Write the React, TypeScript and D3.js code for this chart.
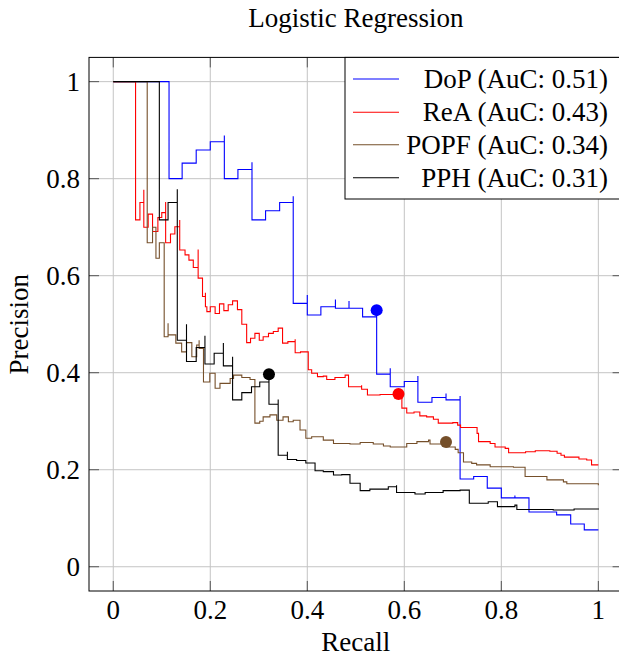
import React, { useEffect, useRef } from "react";
import * as d3 from "d3";

type Pt = [number, number];

// recall / precision step points
const dopCurve: Pt[] = [
  [0, 1], [0.115, 0.8], [0.142, 0.832], [0.171, 0.859], [0.2, 0.876], [0.229, 0.889],
  [0.229, 0.8], [0.257, 0.819], [0.286, 0.834], [0.286, 0.715], [0.314, 0.734],
  [0.343, 0.751], [0.371, 0.764], [0.371, 0.543], [0.4, 0.56], [0.4, 0.519],
  [0.428, 0.536], [0.458, 0.551], [0.458, 0.533], [0.486, 0.548], [0.486, 0.533],
  [0.514, 0.515], [0.543, 0.529], [0.543, 0.397], [0.571, 0.409], [0.571, 0.371],
  [0.6, 0.382], [0.628, 0.393], [0.628, 0.339], [0.657, 0.349], [0.686, 0.357],
  [0.686, 0.344], [0.715, 0.352], [0.715, 0.181], [0.743, 0.186], [0.771, 0.162],
  [0.8, 0.142], [0.828, 0.147], [0.828, 0.142], [0.857, 0.113], [0.914, 0.107],
  [0.943, 0.088], [0.971, 0.076], [1, 0.076],
];

const reaCurve: Pt[] = [
  [0, 1], [0.046, 0.715], [0.055, 0.751], [0.063, 0.777], [0.063, 0.7], [0.072, 0.727],
  [0.081, 0.691], [0.092, 0.72], [0.1, 0.73], [0.108, 0.752], [0.108, 0.668],
  [0.118, 0.686], [0.127, 0.701], [0.137, 0.715], [0.137, 0.653], [0.148, 0.643],
  [0.156, 0.632], [0.165, 0.617], [0.175, 0.654], [0.175, 0.595], [0.184, 0.557],
  [0.19, 0.565], [0.19, 0.536], [0.193, 0.526], [0.2, 0.536], [0.21, 0.522],
  [0.219, 0.542], [0.228, 0.528], [0.237, 0.54], [0.246, 0.548], [0.256, 0.53],
  [0.265, 0.5], [0.275, 0.462], [0.283, 0.471], [0.292, 0.481], [0.301, 0.467],
  [0.309, 0.474], [0.32, 0.481], [0.33, 0.485], [0.34, 0.492], [0.349, 0.461],
  [0.36, 0.464], [0.375, 0.469], [0.375, 0.441], [0.386, 0.443], [0.402, 0.406],
  [0.409, 0.399], [0.421, 0.392], [0.433, 0.393], [0.44, 0.386], [0.457, 0.39],
  [0.478, 0.395], [0.485, 0.371], [0.512, 0.374], [0.512, 0.366], [0.524, 0.354],
  [0.55, 0.355], [0.588, 0.356], [0.595, 0.327], [0.605, 0.317], [0.62, 0.319],
  [0.632, 0.311], [0.646, 0.309], [0.66, 0.304], [0.67, 0.296], [0.7, 0.297],
  [0.71, 0.292], [0.716, 0.287], [0.75, 0.275], [0.753, 0.258], [0.777, 0.254],
  [0.787, 0.247], [0.808, 0.244], [0.815, 0.235], [0.85, 0.237], [0.87, 0.239],
  [0.9, 0.238], [0.915, 0.234], [0.923, 0.23], [0.93, 0.226], [0.96, 0.222],
  [0.976, 0.22], [0.986, 0.219], [0.986, 0.21], [1, 0.21],
];

const popfCurve: Pt[] = [
  [0, 1], [0.07, 0.668], [0.081, 0.7], [0.088, 0.636], [0.095, 0.668], [0.105, 0.474],
  [0.113, 0.502], [0.113, 0.478], [0.129, 0.461], [0.141, 0.443], [0.151, 0.462],
  [0.162, 0.433], [0.172, 0.457], [0.177, 0.467], [0.177, 0.45], [0.186, 0.381],
  [0.199, 0.399], [0.21, 0.368], [0.22, 0.378], [0.241, 0.388], [0.248, 0.395],
  [0.265, 0.39], [0.282, 0.386], [0.292, 0.296], [0.302, 0.3], [0.309, 0.309],
  [0.323, 0.313], [0.337, 0.302], [0.35, 0.309], [0.361, 0.299], [0.371, 0.302],
  [0.385, 0.282], [0.397, 0.265], [0.409, 0.268], [0.433, 0.261], [0.454, 0.254],
  [0.488, 0.253], [0.509, 0.256], [0.536, 0.253], [0.557, 0.249], [0.571, 0.247],
  [0.605, 0.254], [0.626, 0.258], [0.65, 0.261], [0.653, 0.253], [0.687, 0.247],
  [0.705, 0.242], [0.711, 0.235], [0.722, 0.216], [0.739, 0.213], [0.749, 0.21],
  [0.777, 0.206], [0.825, 0.205], [0.849, 0.186], [0.873, 0.186], [0.894, 0.179],
  [0.928, 0.175], [0.935, 0.171], [1, 0.168],
];

const pphCurve: Pt[] = [
  [0, 1], [0.095, 0.715], [0.113, 0.751], [0.132, 0.778], [0.132, 0.467], [0.151, 0.5],
  [0.151, 0.423], [0.171, 0.452], [0.189, 0.476], [0.189, 0.418], [0.208, 0.44],
  [0.227, 0.461], [0.227, 0.414], [0.246, 0.433], [0.246, 0.344], [0.265, 0.359],
  [0.285, 0.371], [0.302, 0.381], [0.321, 0.397], [0.321, 0.335], [0.34, 0.345],
  [0.34, 0.23], [0.359, 0.237], [0.359, 0.221], [0.378, 0.219], [0.397, 0.214],
  [0.416, 0.198], [0.433, 0.196], [0.454, 0.189], [0.471, 0.19], [0.488, 0.172],
  [0.509, 0.157], [0.529, 0.16], [0.567, 0.165], [0.584, 0.168], [0.584, 0.153],
  [0.622, 0.15], [0.643, 0.153], [0.68, 0.157], [0.715, 0.158], [0.734, 0.131],
  [0.773, 0.134], [0.792, 0.124], [0.828, 0.127], [0.832, 0.118], [0.907, 0.117],
  [0.95, 0.119], [1, 0.12],
];

// operating points (filled dots)
const markerPoints: Pt[] = [[0.543, 0.529], [0.588, 0.356], [0.686, 0.257], [0.321, 0.397]];

const seriesNames = ["DoP (AuC: 0.51)", "ReA (AuC: 0.43)", "POPF (AuC: 0.34)", "PPH (AuC: 0.31)"];
const seriesColors = ["#0000ff", "#ff0000", "#754f2a", "#000000"];
const curves = [dopCurve, reaCurve, popfCurve, pphCurve];

const tickValues = [0, 0.2, 0.4, 0.6, 0.8, 1];

const W = 619;
const H = 658;
const FONT = "'Liberation Serif', 'Times New Roman', serif";

const App = () => {
  const ref = useRef<HTMLDivElement>(null);

  useEffect(() => {
    const root = d3.select(ref.current);
    root.selectAll("svg").remove();
    const svg = root
      .append("svg")
      .attr("width", W)
      .attr("height", H)
      .style("position", "absolute")
      .style("left", "0px")
      .style("top", "0px")
      .style("font-family", FONT);

    const left = 89, right = 622.6, top = 57.4, bottom = 591;

    const x = d3.scaleLinear().domain([-0.05, 1.05]).range([left, right]);
    const y = d3.scaleLinear().domain([-0.05, 1.05]).range([bottom, top]);

    svg.append("rect").attr("width", W).attr("height", H).attr("fill", "#fff");

    // grid
    const grid = svg.append("g").attr("stroke", "#c4c4c4").attr("stroke-width", 1);
    tickValues.forEach((t) => {
      grid.append("line").attr("x1", x(t)).attr("x2", x(t)).attr("y1", top).attr("y2", bottom);
      grid.append("line").attr("y1", y(t)).attr("y2", y(t)).attr("x1", left).attr("x2", right);
    });

    // inner tick marks on all four sides
    const ticks = svg.append("g").attr("stroke", "#555").attr("stroke-width", 1);
    tickValues.forEach((t) => {
      ticks.append("line").attr("x1", x(t)).attr("x2", x(t)).attr("y1", bottom).attr("y2", bottom - 10);
      ticks.append("line").attr("x1", x(t)).attr("x2", x(t)).attr("y1", top).attr("y2", top + 10);
      ticks.append("line").attr("y1", y(t)).attr("y2", y(t)).attr("x1", left).attr("x2", left + 10);
      ticks.append("line").attr("y1", y(t)).attr("y2", y(t)).attr("x1", right).attr("x2", right - 10);
    });

    const line = d3
      .line<Pt>()
      .x((d) => x(d[0]))
      .y((d) => y(d[1]))
      .curve(d3.curveStepAfter);

    curves.forEach((c, i) => {
      svg
        .append("path")
        .attr("d", line(c))
        .attr("fill", "none")
        .attr("stroke", seriesColors[i])
        .attr("stroke-width", 1.1);
    });

    markerPoints.forEach((p, i) => {
      svg
        .append("circle")
        .attr("cx", x(p[0]))
        .attr("cy", y(p[1]))
        .attr("r", 6)
        .attr("fill", seriesColors[i]);
    });

    // frame
    svg
      .append("rect")
      .attr("x", left)
      .attr("y", top)
      .attr("width", right - left)
      .attr("height", bottom - top)
      .attr("fill", "none")
      .attr("stroke", "#000")
      .attr("stroke-width", 1);

    // tick labels
    const fmt = (t: number) => (t === 0 || t === 1 ? String(t) : String(t));
    tickValues.forEach((t) => {
      svg
        .append("text")
        .attr("x", x(t))
        .attr("y", 619)
        .attr("text-anchor", "middle")
        .attr("font-size", 27)
        .text(fmt(t));
      svg
        .append("text")
        .attr("x", 80)
        .attr("y", y(t) + 9)
        .attr("text-anchor", "end")
        .attr("font-size", 27)
        .text(fmt(t));
    });

    svg
      .append("text")
      .attr("x", (left + right) / 2)
      .attr("y", 651)
      .attr("text-anchor", "middle")
      .attr("font-size", 27)
      .text("Recall");

    svg
      .append("text")
      .attr("transform", `translate(28,${(top + bottom) / 2}) rotate(-90)`)
      .attr("text-anchor", "middle")
      .attr("font-size", 27)
      .text("Precision");

    svg
      .append("text")
      .attr("x", (left + right) / 2)
      .attr("y", 27)
      .attr("text-anchor", "middle")
      .attr("font-size", 27)
      .text("Logistic Regression");

    // legend
    const lg = svg.append("g");
    lg.append("rect")
      .attr("x", 345)
      .attr("y", top)
      .attr("width", right - 345)
      .attr("height", 199 - top)
      .attr("fill", "#fff")
      .attr("stroke", "#000")
      .attr("stroke-width", 1);
    const rowY = [79, 112.3, 144.8, 177.7];
    seriesNames.forEach((name, i) => {
      lg.append("line")
        .attr("x1", 353)
        .attr("x2", 399)
        .attr("y1", rowY[i])
        .attr("y2", rowY[i])
        .attr("stroke", seriesColors[i])
        .attr("stroke-width", 1.1);
      lg.append("text")
        .attr("x", 608)
        .attr("y", rowY[i] + 9)
        .attr("text-anchor", "end")
        .attr("font-size", 27)
        .text(name);
    });
  }, []);

  return <div ref={ref}></div>;
};

export default App;
